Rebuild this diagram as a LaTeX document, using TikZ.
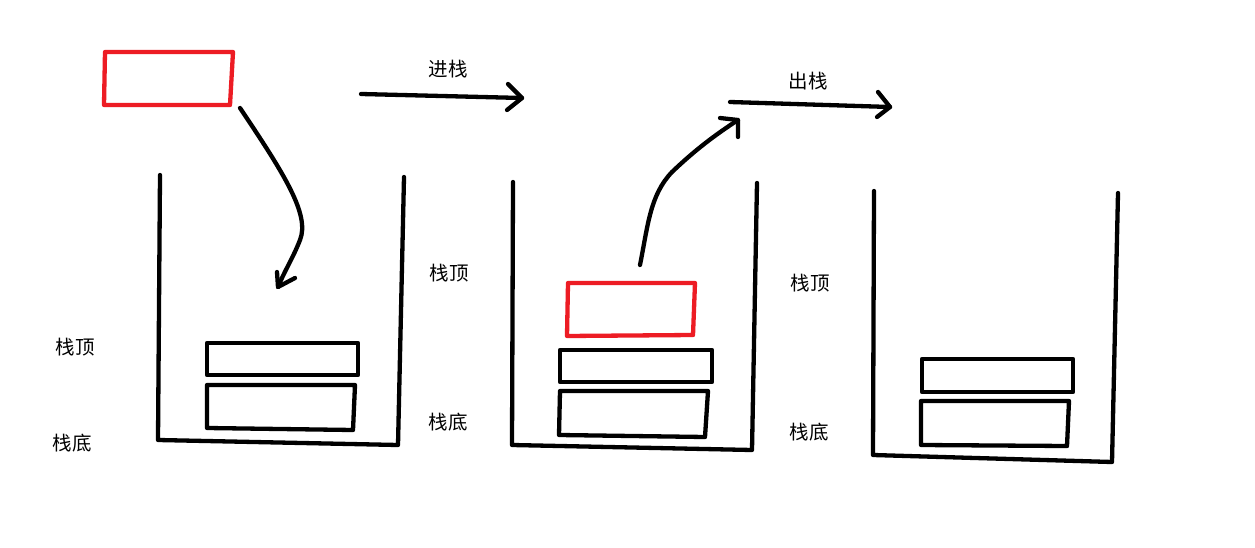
\documentclass[tikz,border=0pt]{standalone}
\usepackage{fontspec}
\newfontfamily\cjk{Noto Sans CJK SC}
\begin{document}
\begin{tikzpicture}[x=1pt,y=-1pt,
  stroke/.style={line width=4.3pt,line cap=round,line join=round},
  blk/.style={stroke,black},
  red/.style={stroke,draw={rgb,255:red,237;green,28;blue,36}},
  lbl/.style={font=\cjk\fontsize{19.5}{19.5}\selectfont,inner sep=0pt}]
\useasboundingbox[fill=white] (0,0) rectangle (1255,548);
% labels
\node[lbl] (t1) at (75,347) {栈顶};
\node[lbl] (b1) at (72,443) {栈底};
\node[lbl] (t2) at (449,273) {栈顶};
\node[lbl] (b2) at (448,422) {栈底};
\node[lbl] (t3) at (810,283) {栈顶};
\node[lbl] (b3) at (809,432) {栈底};
\node[lbl] (push) at (448,69) {进栈};
\node[lbl] (pop) at (808,81) {出栈};
% containers
\draw[blk] (160,175) -- (158,440) -- (398,445) -- (404,177);
\draw[blk] (513,182) -- (512,445) -- (752,450) -- (757,183);
\draw[blk] (874,191) -- (873,455) -- (1112,462) -- (1118,193);
% stack 1
\draw[red] (105,52) -- (233,52) -- (230,105) -- (104,105) -- cycle;
\draw[blk] (207,343) -- (358,343) -- (358,375) -- (207,375) -- cycle;
\draw[blk] (207,385) -- (355,385) -- (353,430) -- (207,428) -- cycle;
% stack 2
\draw[red] (568,283) -- (695,283) -- (693,335) -- (567,336) -- cycle;
\draw[blk] (560,350) -- (712,350) -- (712,382) -- (560,382) -- cycle;
\draw[blk] (560,391) -- (708,391) -- (705,437) -- (559,435) -- cycle;
% stack 3
\draw[blk] (922,359) -- (1073,359) -- (1073,392) -- (922,392) -- cycle;
\draw[blk] (921,401) -- (1069,401) -- (1067,446) -- (921,445) -- cycle;
% curved arrow 1 (push)
\coordinate (a1s) at (240,108);
\coordinate (a1e) at (278,287);
\draw[blk] (a1s) .. controls (285,175) and (310,215) .. (300,240) .. controls (293,258) and (285,270) .. (a1e);
\draw[blk] (277,272) -- (a1e) -- (295,278);
% curved arrow 2 (pop)
\coordinate (a2s) at (640,265);
\coordinate (a2e) at (738,120);
\draw[blk] (a2s) .. controls (648,225) and (650,195) .. (672,172) .. controls (695,150) and (715,135) .. (a2e);
\draw[blk] (720,118) -- (a2e) -- (738,137);
% straight arrows
\coordinate (p1s) at (361,94);
\coordinate (p1e) at (522,98);
\draw[blk] (p1s) -- (p1e);
\draw[blk] (508,84) -- (p1e) -- (507,110);
\coordinate (p2s) at (730,102);
\coordinate (p2e) at (890,107);
\draw[blk] (p2s) -- (p2e);
\draw[blk] (878,92) -- (p2e) -- (877,117);
\end{tikzpicture}
\end{document}
